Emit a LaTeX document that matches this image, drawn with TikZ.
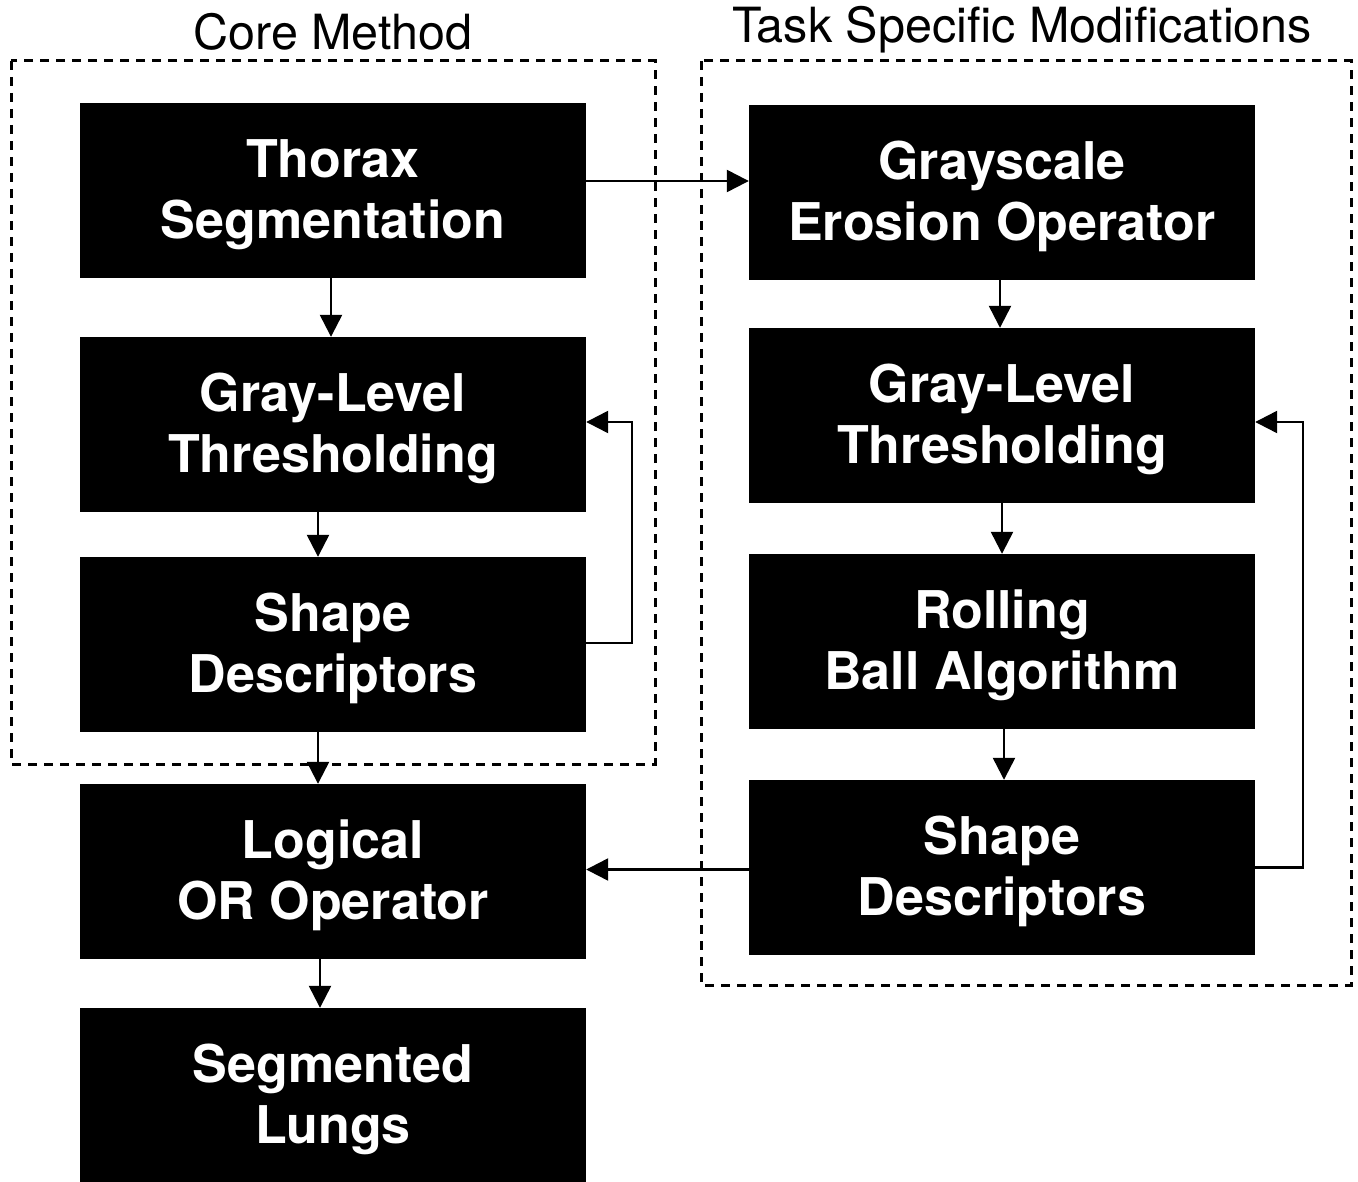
\documentclass[tikz,border=0pt]{standalone}
\usepackage{fontspec}
\setsansfont{TeX Gyre Heros}
\usetikzlibrary{arrows.meta}
\begin{document}
\begin{tikzpicture}[x=1pt,y=-1pt,
  blk/.style={rectangle,fill=black,minimum width=506pt,minimum height=175pt,inner sep=0pt},
  lbl/.style={text=white,align=center,inner sep=0pt,yshift=-4pt,font=\sffamily\bfseries\fontsize{52}{61}\selectfont},
  ttl/.style={font=\sffamily\fontsize{48.5}{56}\selectfont,inner sep=0pt},
  arr/.style={line width=2.4pt,-{Triangle[length=22pt,width=22pt]}},
  grp/.style={line width=3pt,dash pattern=on 9pt off 7pt}]
\useasboundingbox (0,0) rectangle (1358,1182);
% groups
\draw[grp] (11,61) rectangle (655,764);
\draw[grp] (701,61) rectangle (1351,985);
\node[ttl] (t1) at (333,32) {Core Method};
\node[ttl] (t2) at (1022,30) {Task Specific Modifications};
% left column
\node[blk,label={[lbl]center:{Thorax\\Segmentation}}] (ts) at (333,190.5) {};
\node[blk,label={[lbl]center:{Gray-Level\\Thresholding}}] (glt) at (333,424.5) {};
\node[blk,label={[lbl]center:{Shape\\Descriptors}}] (sd) at (333,644.5) {};
\node[blk,label={[lbl]center:{Logical\\OR Operator}}] (lo) at (333,871.5) {};
\node[blk,label={[lbl]center:{Segmented\\Lungs}}] (sl) at (333,1095.5) {};
% right column
\node[blk,label={[lbl]center:{Grayscale\\Erosion Operator}}] (ge) at (1002,192.5) {};
\node[blk,label={[lbl]center:{Gray-Level\\Thresholding}}] (glt2) at (1002,415.5) {};
\node[blk,label={[lbl]center:{Rolling\\Ball Algorithm}}] (rb) at (1002,641.5) {};
\node[blk,label={[lbl]center:{Shape\\Descriptors}}] (sd2) at (1002,867.5) {};
% connectors
\draw[arr] ([yshift=9.5pt]ts.east) coordinate (a1) -- (a1 -| ge.west);
\draw[arr] ([xshift=-2pt]ts.south) -- ([xshift=-2pt]glt.north);
\draw[arr] ([xshift=-15pt]glt.south) -- ([xshift=-15pt]sd.north);
\draw[arr] ([xshift=-15pt]sd.south) -- ([xshift=-15pt]lo.north);
\draw[arr] ([xshift=-13pt]lo.south) -- ([xshift=-13pt]sl.north);
\draw[arr] ([yshift=1.5pt]sd.east) -- ++(46,0) |- ([yshift=2.5pt]glt.east);
\draw[arr] ([xshift=-2pt]ge.south) -- ([xshift=-2pt]glt2.north);
\draw[arr] (glt2.south) -- (rb.north);
\draw[arr] ([xshift=2pt]rb.south) -- ([xshift=2pt]sd2.north);
\draw[arr] (sd2.east) -- ++(48,0) |- ([yshift=-6.5pt]glt2.east);
\draw[arr] ([yshift=-2pt]sd2.west) coordinate (a2) -- (a2 -| lo.east);
\end{tikzpicture}
\end{document}
